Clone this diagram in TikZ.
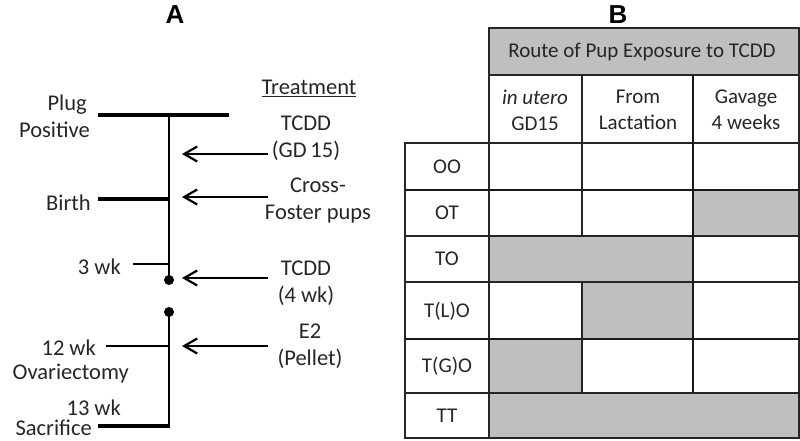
\documentclass[tikz,border=0pt]{standalone}
\usepackage{fontspec}
\setmainfont{Carlito}
\newfontfamily\titlefont{Liberation Sans}
\usetikzlibrary{arrows.meta}
\begin{document}
\begin{tikzpicture}[x=1pt,y=-1pt,
  lbl/.style={font=\fontsize{22.5}{27}\selectfont, align=center, inner sep=0pt, text=black!85},
  tlbl/.style={font=\fontsize{21}{26}\selectfont, align=center, inner sep=0pt, text=black!85},
  ttl/.style={font=\titlefont\bfseries\fontsize{26}{26}\selectfont, inner sep=0pt},
  bar/.style={line width=3.6pt},
  tickln/.style={line width=2.2pt},
  vline/.style={line width=2.4pt},
  arr/.style={-{Straight Barb[length=13pt,width=15pt,line width=2.2pt]}, line width=2pt},
  grayc/.style={fill=gray!50},
  grid/.style={line width=1.3pt, draw=black!85},
  gridthick/.style={line width=2.2pt, draw=black!90}]
\useasboundingbox (0,0) rectangle (800,440);
% titles
\node[ttl] (tA) at (175,15) {A};
\node[ttl] (tB) at (618,15) {B};
% ---------- Panel A ----------
\coordinate (plugL) at (98,115);
\coordinate (plugR) at (229,115);
\coordinate (vtop) at (169,115);
\coordinate (dot1) at (169,280);
\coordinate (dot2) at (169,312);
\coordinate (vbot) at (169,426);
\coordinate (birthL) at (98,199);
\coordinate (birthR) at (169,199);
\coordinate (wk3L) at (133,264);
\coordinate (wk3R) at (169,264);
\coordinate (wk12L) at (106,346);
\coordinate (wk12R) at (169,346);
\coordinate (sacL) at (98,426);
\draw[bar] (plugL) -- (plugR);
\draw[vline] (vtop) -- (dot1);
\draw[vline] (dot2) -- (vbot);
\fill (dot1) circle (5pt);
\fill (dot2) circle (5pt);
\draw[bar] (birthL) -- (birthR);
\draw[tickln] (wk3L) -- (wk3R);
\draw[tickln] (wk12L) -- (wk12R);
\draw[bar] (sacL) -- ([xshift=1.2pt]vbot);
% left labels
\node[lbl, anchor=east] (plug) at (87,105) {Plug};
\node[lbl, anchor=east] (pos) at (90,130) {Positive};
\node[lbl, anchor=east] (birth) at (91,203) {Birth};
\node[lbl, anchor=east] (w3) at (121,267) {3 wk};
\node[lbl, anchor=east] (w12) at (96,348) {12 wk};
\node[lbl, anchor=east] (ovx) at (129,374) {Ovariectomy};
\node[lbl, anchor=east] (w13) at (121,408) {13 wk};
\node[lbl, anchor=east] (sac) at (92,428) {Sacrifice};
% treatments
\node[lbl] (treat) at (309,88) {\underline{Treatment}};
\node[lbl] (t1) at (306,138) {TCDD\\(GD\,15)};
\node[lbl] (t2) at (318,201) {Cross-\\Foster pups};
\node[lbl] (t3) at (306,283) {TCDD\\(4 wk)};
\node[lbl] (t4) at (310,346) {E2\\(Pellet)};
\coordinate (a1s) at (268,154); \coordinate (a1e) at (182,154);
\coordinate (a2s) at (268,197); \coordinate (a2e) at (182,197);
\coordinate (a3s) at (268,278); \coordinate (a3e) at (182,278);
\coordinate (a4s) at (268,346); \coordinate (a4e) at (182,346);
\draw[arr] (a1s) -- (a1e);
\draw[arr] (a2s) -- (a2e);
\draw[arr] (a3s) -- (a3e);
\draw[arr] (a4s) -- (a4e);
% ---------- Panel B ----------
% columns 405 489 582 693 799 ; rows 28 75 143 190 236 282 339 393 438
\fill[grayc] (489,28) rectangle (799,75);
\fill[grayc] (693,190) rectangle (799,236);
\fill[grayc] (489,236) rectangle (693,282);
\fill[grayc] (582,282) rectangle (693,339);
\fill[grayc] (489,339) rectangle (582,393);
\fill[grayc] (489,393) rectangle (799,438);
% grid
\draw[grid] (489,28) rectangle (799,438);
\draw[grid] (405,143) rectangle (489,438);
\draw[grid] (489,75) -- (799,75);
\draw[grid] (405,143) -- (799,143);
\draw[gridthick] (405,190) -- (799,190);
\draw[grid] (405,236) -- (799,236);
\draw[grid] (405,282) -- (799,282);
\draw[gridthick] (405,339) -- (799,339);
\draw[grid] (405,393) -- (799,393);
\draw[grid] (582,75) -- (582,236);
\draw[grid] (582,282) -- (582,393);
\draw[gridthick] (693,75) -- (693,393);
% texts
\node[tlbl] (hdr) at (642,52) {Route of Pup Exposure to TCDD};
\node[tlbl] (c1) at (535,110) {\textit{in utero}\\GD15};
\node[tlbl] (c2) at (638,110) {From\\Lactation};
\node[tlbl] (c3) at (746,110) {Gavage\\4 weeks};
\node[tlbl] (rOO) at (447,167) {OO};
\node[tlbl] (rOT) at (447,213) {OT};
\node[tlbl] (rTO) at (447,259) {TO};
\node[tlbl] (rTLO) at (447,311) {T(L)O};
\node[tlbl] (rTGO) at (447,366) {T(G)O};
\node[tlbl] (rTT) at (447,416) {TT};
\end{tikzpicture}
\end{document}
